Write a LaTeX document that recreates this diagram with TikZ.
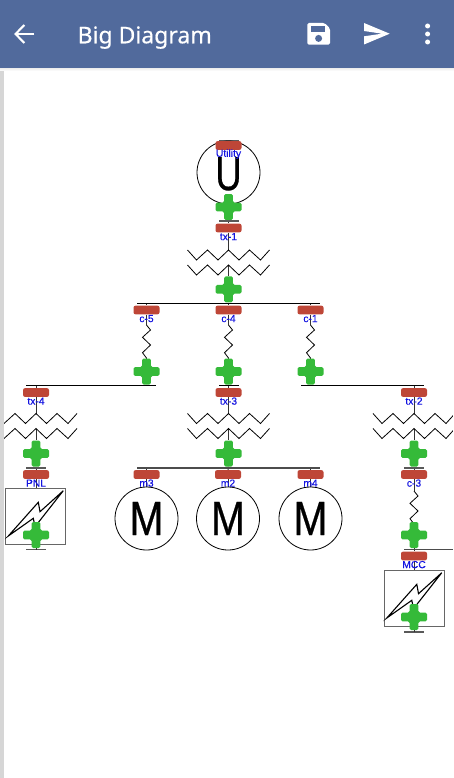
\documentclass[tikz,border=0pt]{standalone}
\usepackage{fontspec}
\setmainfont{Liberation Sans}
\newfontfamily\titlefont[FakeBold=0.45]{Noto Sans}
\newfontfamily\tagfont[FakeBold=0.3]{Liberation Sans}
\newfontfamily\bigfont[FakeBold=0.6]{Liberation Sans}
\usetikzlibrary{backgrounds}
\definecolor{hdr}{HTML}{516A9C}
\definecolor{redb}{HTML}{BE4637}
\definecolor{grn}{HTML}{35BA39}
\definecolor{lbl}{HTML}{1414E0}
\definecolor{edge}{HTML}{D6D6D6}
\tikzset{
  breaker/.style={fill=redb,rounded corners=2pt,minimum width=26pt,minimum height=8.7pt,inner sep=0pt},
  tag/.style={text=lbl,font=\tagfont\fontsize{10.3}{11}\selectfont,inner sep=0pt},
  crossmark/.style={minimum size=26pt,inner sep=0pt},
  busbar/.style={fill=black,minimum height=1.2pt,inner sep=0pt},
  stubbar/.style={fill=black!65,minimum width=20pt,minimum height=1.2pt,inner sep=0pt},
  wire/.style={line width=1pt,black!80},
  thinw/.style={line width=.8pt,black},
  motor/.style={circle,draw=black,line width=.8pt,minimum size=63pt,inner sep=0pt,font=\bigfont\fontsize{48}{48}\selectfont},
  loadbox/.style={draw=black!60,line width=.8pt,fill=white,minimum width=60pt,minimum height=56.5pt,inner sep=0pt},
}
% name, x, y, label
\newcommand\brk[4]{\node[breaker] (#1) at (#2,#3) {};\node[tag] (#1l) at (#2,#3+8.6) {#4};}
% cross
\newcommand\crs[3]{\node[crossmark] (#1) at (#2,#3) {};
  \fill[grn,rounded corners=1.6pt] (#2-4.4,#3-13) -- (#2+4.4,#3-13) -- (#2+4.4,#3-4.4) -- (#2+13,#3-4.4) -- (#2+13,#3+4.4) -- (#2+4.4,#3+4.4) -- (#2+4.4,#3+13) -- (#2-4.4,#3+13) -- (#2-4.4,#3+4.4) -- (#2-13,#3+4.4) -- (#2-13,#3-4.4) -- (#2-4.4,#3-4.4) -- cycle;}
% transformer: name, x, top y
\newcommand\xfmr[3]{\coordinate (#1a) at (#2,#3);\coordinate (#1b) at (#2,#3+15);
  \foreach \yy in {0,15}{\draw[thinw] (#2-41,#3+\yy) -- (#2-32,#3+10+\yy) -- (#2-21,#3+\yy) -- (#2-10.5,#3+10+\yy) -- (#2,#3+\yy) -- (#2+10.5,#3+10+\yy) -- (#2+21,#3+\yy) -- (#2+32,#3+10+\yy) -- (#2+41,#3+\yy);}}
% resistor: name, x, top y
\newcommand\rst[3]{\coordinate (#1a) at (#2,#3);\coordinate (#1b) at (#2,#3+33);
  \draw[thinw] (#1a) -- (#2+4,#3+5) -- (#2-4,#3+12.3) -- (#2+4,#3+20) -- (#2-4,#3+27.7) -- (#1b);}
% lightning bolt, offset from box left/top
\newcommand\bolt[2]{\draw[line width=1.1pt,black,fill=white,line join=miter] (#1+57.8,#2+2.7) -- (#1+34.5,#2+23.7) -- (#1+32.8,#2+14.3) -- (#1+2.8,#2+48) -- (#1+27.8,#2+30.3) -- (#1+29.5,#2+38.7) -- cycle;}
\begin{document}
\begin{tikzpicture}[x=1pt,y=-1pt]
\useasboundingbox (0,0) rectangle (454,778);
% --- top: utility
\node[stubbar] (u0) at (228.5,140.5) {};
\node[motor] (util) at (228.5,172.5) {};
\node (utilU) at (228.5,173.8) [inner sep=0pt,font=\bigfont\fontsize{48}{48}\selectfont] {\scalebox{.76}[1]{U}};
\brk{rU}{228.5}{145.5}{Utility}
\crs{p1}{228.5}{207}
\node[stubbar] (s1) at (228.5,221) {};
\brk{rT1}{228.5}{228}{tx-1}
\xfmr{t1}{228.5}{250}
\crs{p2}{228.5}{289.3}
\node[busbar,minimum width=183pt] (b1) at (228.5,303.5) {};
% --- feeders
\brk{r5}{146.5}{310}{c-5}
\brk{r4}{228.5}{310}{c-4}
\brk{r1}{310.5}{310}{c-1}
\rst{z5}{146.5}{325}
\rst{z4}{228.5}{325}
\rst{z1}{310.5}{325}
\crs{p5}{146.5}{371.5}
\crs{p4}{228.5}{371.5}
\crs{p3}{310.5}{371.5}
\node[busbar,minimum width=130pt] (b2) at (91,385.5) {};
\node[busbar,minimum width=20pt] (b3) at (228.5,385.5) {};
\node[busbar,minimum width=123pt] (b4) at (362.5,385.5) {};
\brk{rT4}{36}{392.5}{tx-4}
\brk{rT3}{228.5}{392.5}{tx-3}
\brk{rT2}{414}{392.5}{tx-2}
\xfmr{t4}{36}{413.5}
\xfmr{t3}{228.5}{413.5}
\xfmr{t2}{414}{413.5}
\crs{p6}{36}{453.5}
\crs{p7}{228.5}{453.5}
\crs{p8}{414}{453.5}
\node[stubbar] (s6) at (36,468) {};
\node[busbar,minimum width=183pt,fill=black!70] (b5) at (228.5,468) {};
\node[stubbar] (s8) at (414,468) {};
\brk{rP}{36}{474.5}{PNL}
\brk{m3r}{146.5}{474.5}{m3}
\brk{m2r}{228}{474.5}{m2}
\brk{m4r}{310.5}{474.5}{m4}
\brk{r3}{414}{474.5}{c-3}
\node[motor] (m3) at (146.5,518.5) {\scalebox{.85}[1]{M}};
\node[motor] (m2) at (228,518.5) {\scalebox{.85}[1]{M}};
\node[motor] (m4) at (310.5,518.5) {\scalebox{.85}[1]{M}};
\node[loadbox] (pnl) at (35.5,516.3) {};
\bolt{5.5}{488}
\crs{p9}{36}{535}
\node[stubbar] (s9) at (36,549.5) {};
\rst{z3}{414}{491}
\crs{p10}{414}{535}
\node[busbar,minimum width=49pt,fill=black!70] (b6) at (428.5,549.5) {};
\brk{rM}{414}{556}{MCC}
\node[loadbox] (mcc) at (414,598.5) {};
\bolt{384}{570}
\crs{p11}{414}{617}
\node[stubbar] (s11) at (414,632) {};
% --- connectors under everything
\begin{scope}[on background layer]
\draw[wire] (u0.center) -- (rU);
\draw[wire] (p1) -- (s1.center) -- (rT1);
\draw[wire] (rT1) -- (t1a);
\draw[wire] (t1b) -- (p2);
\draw[wire] (p2) -- (b1.center) -- (r4);
\draw[wire] (r5|-b1) -- (r5);
\draw[wire] (r1|-b1) -- (r1);
\foreach \r/\z/\p in {r5/z5/p5,r4/z4/p4,r1/z1/p3}{
  \draw[wire] (\r) -- (\z a);
  \draw[wire] (\z b) -- (\p);
}
\draw[wire] (p5) -- (p5|-b2);
\draw[wire] (p4) -- (rT3);
\draw[wire] (p3) -- (p3|-b4);
\draw[wire] (rT4|-b2) -- (rT4);
\draw[wire] (rT2|-b4) -- (rT2);
\foreach \r/\t/\p in {rT4/t4/p6,rT3/t3/p7,rT2/t2/p8}{
  \draw[wire] (\r) -- (\t a);
  \draw[wire] (\t b) -- (\p);
}
\draw[wire] (p6) -- (rP);
\draw[wire] (p7) -- (m2r|-b5) -- (m2r);
\draw[wire] (p8) -- (r3);
\draw[wire] (m3r|-b5) -- (m3r);
\draw[wire] (m4r|-b5) -- (m4r);
\draw[wire] (rP) -- (pnl.north-|rP);
\draw[wire] (m3r) -- (m3.north);
\draw[wire] (m2r) -- (m2.north);
\draw[wire] (m4r) -- (m4.north);
\draw[wire] (r3) -- (z3a);
\draw[wire] (z3b) -- (p10);
\draw[wire] (p10) -- (rM);
\draw[wire] (rM) -- (mcc.north);
\end{scope}
\draw[wire] (p9) -- (s9.center);
\draw[wire] (p11) -- (s11.center);
% --- frame of the app window
\fill[edge] (0,69) rectangle (4,778);
\fill[white] (452.6,68) rectangle (454,778);
\shade[top color=black!7,bottom color=white] (0,68) rectangle (454,71);
\fill[hdr] (0,0) rectangle (454,68.5);
\node[anchor=base west,text=white,inner sep=0pt,font=\titlefont\fontsize{23}{23}\selectfont] (title) at (77.4,43.3) {Big Diagram};
% icons
\draw[white,line width=2.1pt] (34.3,34) -- (16,34);
\draw[white,line width=2.1pt] (24.3,25) -- (15.6,34) -- (24.3,43);
\fill[white,rounded corners=1.5pt] (307.3,23) -- (324.5,23) -- (330,28.5) -- (330,44.7) -- (307.3,44.7) -- cycle;
\fill[hdr] (311,26.2) rectangle (325,31.6);
\fill[hdr] (318.6,38.4) circle (3.5pt);
\fill[white] (364,23) -- (389.7,33.7) -- (364,44.5) -- (364,36.3) -- (382,33.7) -- (364,31) -- cycle;
\foreach \yy in {26,34,42}{\fill[white] (427.6,\yy) circle (2.5pt);}
\end{tikzpicture}
\end{document}
